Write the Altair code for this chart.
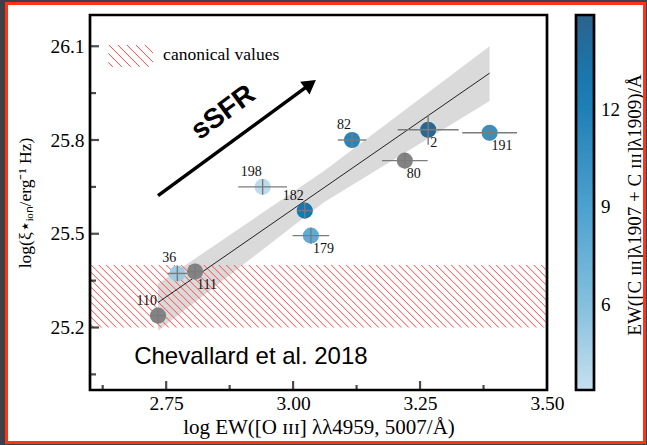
import altair as alt
import numpy as np
import pandas as pd

# ---------------- data ----------------
ids = ["110", "36", "111", "179", "182", "198", "82", "80", "2", "191"]
log_ew_o3 = [2.734, 2.772, 2.807, 3.035, 3.023, 2.940, 3.116, 3.220, 3.266, 3.387]
log_xi_ion = [25.238, 25.373, 25.379, 25.494, 25.574, 25.650, 25.800, 25.734, 25.833, 25.823]
x_err = [0.015, 0.020, 0.015, 0.036, 0.015, 0.048, 0.028, 0.045, 0.060, 0.054]
y_err = [0.025, 0.025, 0.025, 0.025, 0.025, 0.025, 0.025, 0.025, 0.048, 0.025]
ew_c3 = [None, 5.0, None, 8.0, 13.0, 3.8, 11.5, None, 14.5, 10.5]
label_side = ["ul", "ul", "lr", "lr", "ul", "ul", "ul", "lr", "lr", "lr"]

fit_x = [2.734, 3.387]
fit_y = [25.28, 26.014]
band_x = [2.734, 3.06, 3.387]
band_lo = [25.19, 25.60, 25.925]
band_hi = [25.34, 25.70, 26.10]

canonical_range = [25.2, 25.4]

x_ticks_major = [2.75, 3.0, 3.25, 3.5]
x_ticks_minor = [2.625, 2.875, 3.125, 3.375]
y_ticks_major = [25.2, 25.5, 25.8, 26.1]
y_ticks_minor = [25.05, 25.35, 25.65, 25.95]

cbar_ticks = [6, 9, 12]
cbar_stops = [3.4, 6, 9, 12, 13.5, 14.9]
cbar_colors = ["#c6e0ee", "#84c0de", "#4ca1cf", "#1f80b6", "#1873aa", "#2d6289"]

# ---------------- layout / style ----------------
W, H = 457, 375
X_DOM = [2.6, 3.5]
Y_DOM = [25.0, 26.2]
SERIF = "Liberation Serif"
SANS = "Liberation Sans"
HATCH_RED = "#ff4646"

KX = W / (X_DOM[1] - X_DOM[0])
KY = H / (Y_DOM[1] - Y_DOM[0])


def hatch(x0, x1, y0, y1, spacing):
    """45-degree '\\' hatch segments (in data units) clipped to a rectangle."""
    w = (x1 - x0) * KX
    h = (y1 - y0) * KY
    segs = []
    a = -h + spacing / 2
    while a < w:
        t0 = max(0.0, -a)
        t1 = min(h, w - a)
        if t1 > t0:
            segs.append(dict(hx=x0 + (a + t0) / KX, hy=y1 - t0 / KY,
                             hx2=x0 + (a + t1) / KX, hy2=y1 - t1 / KY))
        a += spacing
    return pd.DataFrame(segs)


xscale = alt.Scale(domain=X_DOM, nice=False, zero=False)
yscale = alt.Scale(domain=Y_DOM, nice=False, zero=False)
xaxis = alt.Axis(values=x_ticks_major, format=".2f", title="log  EW([O ɪɪɪ] λλ4959, 5007/Å)",
                 labelPadding=4, titlePadding=4, titleFontSize=21, labelFlush=False, zindex=2)
yaxis = alt.Axis(values=y_ticks_major, format=".1f", title="log(ξ⋆ᵢₒₙ/erg⁻¹ Hz)",
                 labelPadding=6, titlePadding=15, titleFontSize=17.5, labelFlush=False, zindex=2)


def X(f):
    return alt.X(f, type="quantitative", scale=xscale, axis=xaxis)


def Y(f):
    return alt.Y(f, type="quantitative", scale=yscale, axis=yaxis)


df = pd.DataFrame(dict(id=ids, x=log_ew_o3, y=log_xi_ion, xe=x_err, ye=y_err,
                       ew=ew_c3, side=label_side))
df["xlo"] = df.x - df.xe
df["xhi"] = df.x + df.xe
df["ylo"] = df.y - df.ye
df["yhi"] = df.y + df.ye
col_df = df[df.ew.notna()]
gray_df = df[df.ew.isna()]

one = pd.DataFrame({"a": [0]})

# white page with red border
page = alt.Chart(one).mark_rect(fill="white").encode(
    x=alt.value(-84), x2=alt.value(555), y=alt.value(-12), y2=alt.value(428))
border = alt.Chart(one).mark_rect(fillOpacity=0, stroke="#ff3316", strokeWidth=3).encode(
    x=alt.value(-83.5), x2=alt.value(554.5), y=alt.value(-11.5), y2=alt.value(427.5))
frame = alt.Chart(one).mark_rect(fillOpacity=0, stroke="black", strokeWidth=2.7).encode(
    x=alt.value(0), x2=alt.value(W), y=alt.value(0), y2=alt.value(H))

band = alt.Chart(pd.DataFrame(dict(x=band_x, lo=band_lo, hi=band_hi))).mark_area(
    color="#dadada").encode(x=X("x"), y=Y("lo"), y2="hi")

hatch_df = hatch(X_DOM[0], X_DOM[1], canonical_range[0], canonical_range[1], 7.5)
hatch_layer = alt.Chart(hatch_df).mark_rule(color=HATCH_RED, strokeWidth=1).encode(
    x=X("hx"), y=Y("hy"), x2="hx2", y2="hy2")

fit = alt.Chart(pd.DataFrame(dict(x=fit_x, y=fit_y))).mark_line(
    color="#222222", strokeWidth=1).encode(x=X("x"), y=Y("y"))

pts_gray = alt.Chart(gray_df).mark_circle(size=260, opacity=1, color="#838383").encode(
    x=X("x"), y=Y("y"))
pts_col = alt.Chart(col_df).mark_circle(size=260, opacity=1).encode(
    x=X("x"), y=Y("y"),
    color=alt.Color("ew:Q", title=None,
                    scale=alt.Scale(domain=cbar_stops, range=cbar_colors),
                    legend=alt.Legend(orient="none", legendX=486, legendY=0,
                                      direction="vertical", gradientLength=H,
                                      gradientThickness=18, gradientStrokeColor="black",
                                      gradientStrokeWidth=2.7, values=cbar_ticks,
                                      labelFont=SERIF, labelFontSize=19, labelColor="black",
                                      labelOffset=7, padding=0)))

err_h = alt.Chart(df).mark_rule(color="#7b7b7b", strokeWidth=1.4).encode(
    x=X("xlo"), x2="xhi", y=Y("y"))
err_v = alt.Chart(df).mark_rule(color="#7b7b7b", strokeWidth=1.4).encode(
    x=X("x"), y=Y("ylo"), y2="yhi")

lab_ul = alt.Chart(df[df.side == "ul"]).mark_text(
    font=SERIF, fontSize=14, color="#111111", align="right", baseline="middle",
    dx=-1, dy=-15).encode(x=X("x"), y=Y("y"), text="id")
lab_lr = alt.Chart(df[df.side == "lr"]).mark_text(
    font=SERIF, fontSize=14, color="#111111", align="left", baseline="middle",
    dx=2, dy=13).encode(x=X("x"), y=Y("y"), text="id")

# sSFR arrow and annotations
arrow_line = alt.Chart(pd.DataFrame(dict(x=[2.734], y=[25.622], x2=[3.029], y2=[25.973]))).mark_rule(
    color="black", strokeWidth=3.5).encode(x=X("x"), y=Y("y"), x2="x2", y2="y2")
arrow_head = alt.Chart(pd.DataFrame(dict(x=[3.034], y=[25.979]))).mark_point(
    shape="triangle-up", size=250, filled=True, color="black", opacity=1, angle=53.5).encode(
    x=X("x"), y=Y("y"))
ssfr = alt.Chart(pd.DataFrame(dict(x=[2.863], y=[25.887], t=["sSFR"]))).mark_text(
    font=SANS, fontSize=28, fontWeight="bold", angle=323.5, align="center",
    baseline="middle", color="black").encode(x=X("x"), y=Y("y"), text="t")
ref_txt = alt.Chart(pd.DataFrame(dict(x=[2.687], y=[25.107], t=["Chevallard et al. 2018"]))).mark_text(
    font=SANS, fontSize=24, align="left", baseline="middle", color="black").encode(
    x=X("x"), y=Y("y"), text="t")

# legend for the canonical values
leg_x0, leg_x1 = 2.636, 2.724
leg_y0, leg_y1 = 26.034, 26.104
leg_hatch = alt.Chart(hatch(leg_x0, leg_x1, leg_y0, leg_y1, 9)).mark_rule(
    color=HATCH_RED, strokeWidth=1).encode(x=X("hx"), y=Y("hy"), x2="hx2", y2="hy2")
leg_txt = alt.Chart(pd.DataFrame(dict(x=[2.744], y=[26.072], t=["canonical values"]))).mark_text(
    font=SERIF, fontSize=17.5, align="left", baseline="middle", color="black").encode(
    x=X("x"), y=Y("y"), text="t")

# inward axis ticks
xt_major = alt.Chart(pd.DataFrame({"v": x_ticks_major[:-1]})).mark_tick(
    orient="vertical", size=9, thickness=2.2, color="black").encode(x=X("v"), y=alt.value(H - 4.5))
xt_minor = alt.Chart(pd.DataFrame({"v": x_ticks_minor})).mark_tick(
    orient="vertical", size=5, thickness=2.2, color="black").encode(x=X("v"), y=alt.value(H - 2.5))
yt_major = alt.Chart(pd.DataFrame({"v": y_ticks_major})).mark_tick(
    orient="horizontal", size=9, thickness=2.2, color="black").encode(y=Y("v"), x=alt.value(4.5))
yt_minor = alt.Chart(pd.DataFrame({"v": y_ticks_minor})).mark_tick(
    orient="horizontal", size=6, thickness=2.2, color="black").encode(y=Y("v"), x=alt.value(3))

cbar_title = alt.Chart(one).mark_text(
    text="EW([C ɪɪɪ]λ1907 + C ɪɪɪ]λ1909)/Å", font=SERIF, fontSize=19, angle=270,
    align="center", baseline="middle", color="black").encode(
    x=alt.value(545), y=alt.value(190))

main = alt.layer(page, band, hatch_layer, fit, pts_gray, pts_col, err_h, err_v,
                 lab_ul, lab_lr, arrow_line, arrow_head, ssfr, ref_txt,
                 leg_hatch, leg_txt, xt_major, xt_minor, yt_major, yt_minor,
                 frame, cbar_title)

cb_ticks = alt.Chart(pd.DataFrame({"v": cbar_ticks})).mark_tick(
    orient="horizontal", size=8, thickness=2.5, color="black").encode(
    y=alt.Y("v:Q", scale=alt.Scale(domain=[cbar_stops[0], cbar_stops[-1]], nice=False, zero=False),
            axis=None),
    x=alt.value(500))

chart = alt.layer(main, cb_ticks, border).resolve_scale(y="independent").properties(
    width=W, height=H, autosize="none",
    padding={"left": 90, "top": 15, "right": 100, "bottom": 55},
    background="#3c4148",
).configure_view(strokeOpacity=0).configure_axis(
    grid=False, domain=False, ticks=False, labelFont=SERIF, labelFontSize=19.5,
    labelColor="black", titleFont=SERIF, titleFontSize=19, titleFontWeight="normal",
    titleColor="black",
).configure_legend(gradientVerticalMaxLength=400)

chart.save("out.html", embed_options={"renderer": "svg", "actions": False})
